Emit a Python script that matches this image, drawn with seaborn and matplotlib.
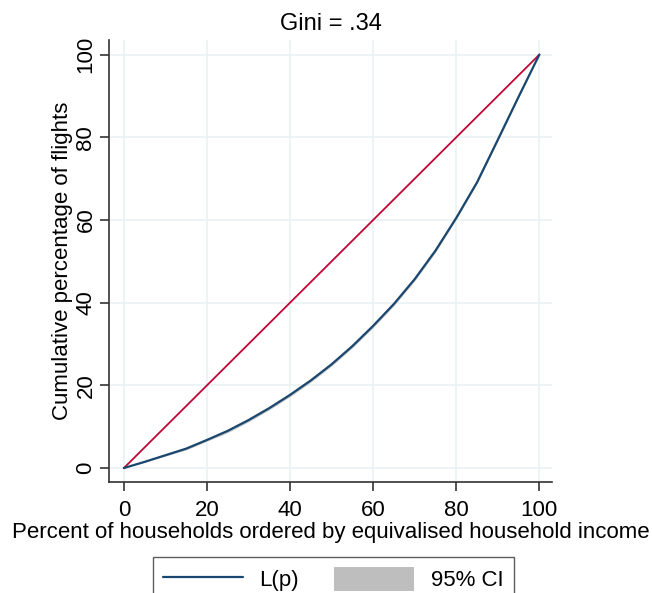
import numpy as np
import pandas as pd
import matplotlib
matplotlib.use('Agg')
import matplotlib.pyplot as plt
import seaborn as sns
from matplotlib.patches import Patch
from matplotlib.lines import Line2D

# Lorenz curve values
pct_households = [0, 5, 10, 15, 20, 25, 30, 35, 40, 45, 50, 55, 60, 65, 70, 75, 80, 85, 90, 95, 100]
lorenz = [0, 1.5, 3.1, 4.7, 6.8, 9.0, 11.6, 14.5, 17.7, 21.2, 25.1, 29.5, 34.4, 39.7, 45.7, 52.6, 60.5, 69.1, 79.4, 89.8, 100]
ci_low = [0, 1.4, 2.9, 4.4, 6.5, 8.6, 11.2, 14.1, 17.3, 20.8, 24.7, 29.1, 34.0, 39.3, 45.3, 52.2, 60.2, 68.8, 79.1, 89.6, 100]
ci_high = [0, 1.6, 3.3, 5.0, 7.1, 9.4, 12.0, 14.9, 18.1, 21.6, 25.5, 29.9, 34.8, 40.1, 46.1, 53.0, 60.8, 69.4, 79.7, 90.0, 100]
equality = [0, 100]

navy = '#1a476f'
red = '#c10534'
grid_col = '#eaf2f3'
fs = 16

sns.set_style('white')
plt.rcParams['font.family'] = ['Liberation Sans', 'DejaVu Sans']
plt.rcParams['text.color'] = 'black'
plt.rcParams['axes.labelcolor'] = 'black'

df = pd.DataFrame({'p': pct_households, 'L': lorenz})
eq = pd.DataFrame({'p': equality, 'L': equality})

fig = plt.figure(figsize=(6.52, 5.93), dpi=100)
ax = fig.add_axes([0.167, 0.187, 0.68, 0.746])

ax.fill_between(pct_households, ci_low, ci_high, color='#bebebe', lw=0, zorder=2)
sns.lineplot(data=eq, x='p', y='L', color=red, lw=1.3, ax=ax, zorder=3)
sns.lineplot(data=df, x='p', y='L', color=navy, lw=1.6, ax=ax, zorder=4)

ticks = [0, 20, 40, 60, 80, 100]
ax.set_xticks(ticks)
ax.set_yticks(ticks)
ax.set_xlim(-3.6, 103.1)
ax.set_ylim(-3.4, 103.6)
ax.grid(True, color=grid_col, lw=1.2)
ax.set_axisbelow(True)

for s in ['top', 'right']:
    ax.spines[s].set_visible(False)
for s in ['left', 'bottom']:
    ax.spines[s].set_color('#333333')
    ax.spines[s].set_linewidth(1.2)

ax.tick_params(axis='both', direction='out', length=6.5, width=1.2, color='#333333',
               labelsize=fs, labelcolor='black', left=True, bottom=True)
ax.tick_params(axis='x', pad=6.5)
ax.tick_params(axis='y', pad=2.5)
plt.setp(ax.get_yticklabels(), rotation=90, va='center')

ax.set_xlabel('Percent of households ordered by equivalised household income', fontsize=fs, labelpad=0.5)
ax.set_ylabel('Cumulative percentage of flights', fontsize=fs)
ax.yaxis.set_label_coords(-0.082, 0.5)
ax.set_title('Gini = .34', fontsize=17, pad=7)

handles = [Line2D([0], [0], color=navy, lw=1.6),
           Patch(facecolor='#bebebe', edgecolor='none')]
leg = fig.legend(handles, ['L(p)', '95% CI'], loc='upper center', bbox_to_anchor=(0.511, 0.061),
                 ncol=2, fontsize=fs, frameon=True, fancybox=False, handlelength=3.6,
                 handleheight=1.3, columnspacing=1.6, borderpad=0.45, handletextpad=0.75,
                 borderaxespad=0)
leg.get_frame().set_edgecolor('#333333')
leg.get_frame().set_linewidth(1.0)

fig.savefig('out.png', dpi=100)
